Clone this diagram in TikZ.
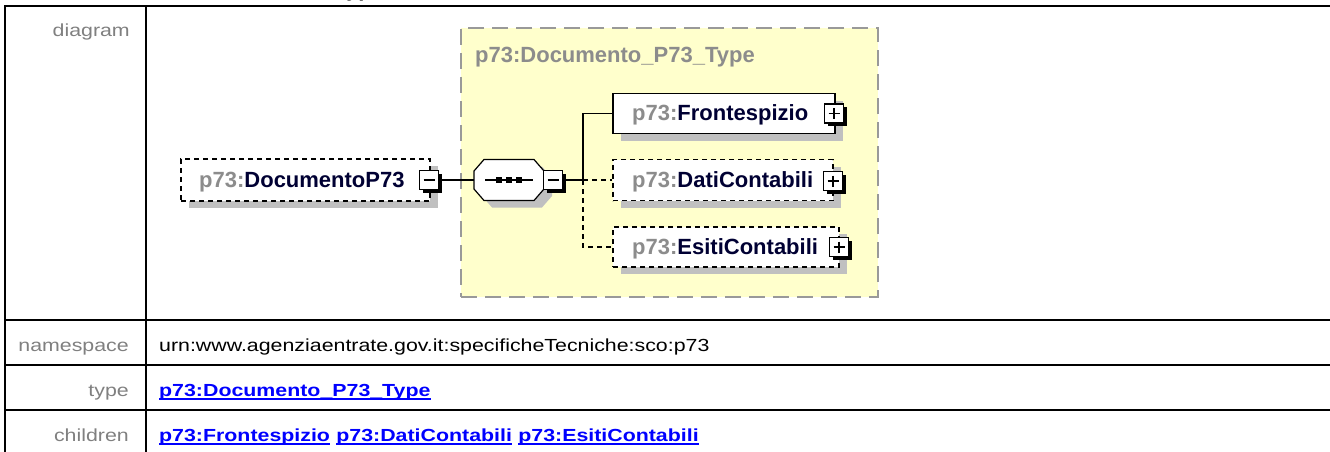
\documentclass[tikz,border=0pt]{standalone}
\usepackage{fontspec}
\setmainfont{Liberation Sans}
\newfontfamily\tabfont{Liberation Sans}[FakeStretch=1.22]
\usetikzlibrary{shadows}
\definecolor{shadowgray}{RGB}{192,192,192}
\definecolor{yfill}{RGB}{255,255,204}
\definecolor{yborder}{RGB}{153,153,153}
\definecolor{pfx}{RGB}{140,140,140}
\definecolor{nm}{RGB}{0,0,51}
\definecolor{lbl}{RGB}{128,128,128}
\definecolor{lnk}{RGB}{0,0,255}
\begin{document}
\begin{tikzpicture}[x=1pt,y=-1pt,
  dfont/.style={font=\bfseries\fontsize{22}{24}\selectfont},
  tfont/.style={font=\tabfont\fontsize{17.5}{20}\selectfont},
  elem/.style={draw=black, fill=white, line width=1.2pt, inner sep=0pt,
    drop shadow={shadow xshift=8pt,shadow yshift=-7pt,fill=shadowgray,opacity=1}},
  optelem/.style={elem, dash pattern=on 5pt off 4pt},
  etext/.style={dfont, inner sep=0pt, anchor=base west},
  pm/.style={draw=black, fill=white, line width=1.2pt, minimum width=19pt, minimum height=19pt, inner sep=0pt,
    drop shadow={shadow xshift=3pt,shadow yshift=-3pt,fill=black,opacity=1}},
  minusbox/.style={pm, path picture={\draw[line width=1.4pt] ([xshift=4pt]path picture bounding box.west) -- ([xshift=-4pt]path picture bounding box.east);}},
  plusbox/.style={pm, path picture={\draw[line width=1.4pt] ([xshift=4pt]path picture bounding box.west) -- ([xshift=-4pt]path picture bounding box.east);
      \draw[line width=1.4pt] ([yshift=-4pt]path picture bounding box.north) -- ([yshift=4pt]path picture bounding box.south);}},
  conn/.style={line width=1.2pt, black},
  optconn/.style={conn, dash pattern=on 5pt off 4pt},
  rowlabel/.style={tfont, text=lbl, inner sep=0pt, anchor=base east},
  rowvalue/.style={tfont, text=black, inner sep=0pt, anchor=base west},
  linktext/.style={font=\tabfont\bfseries\fontsize{17.5}{20}\selectfont, text=lnk, inner sep=0pt, anchor=base west},
  uline/.style={draw=lnk, line width=1.4pt},
  tline/.style={line width=2pt, black}
]
\useasboundingbox (0,0) rectangle (1330,452);
\fill[white] (0,0) rectangle (1330,452);

% clipped title fragments at the top
\begin{scope}
  \clip (0,0) rectangle (1330,5);
  \node[dfont, inner sep=0pt, anchor=base west] (tt1) at (191,-3) {\_};
  \node[dfont, inner sep=0pt, anchor=base west] (tt2) at (322,-3) {\_Type};
\end{scope}

% table
\draw[tline] (4,6) -- (1330,6);
\draw[tline] (5,6) -- (5,452);
\draw[tline] (146,6) -- (146,452);
\draw[tline] (5,320) -- (1330,320);
\draw[tline] (5,365) -- (1330,365);
\draw[tline] (5,410) -- (1330,410);

\node[rowlabel] (ldiag) at (130,37) {diagram};
\node[rowlabel] (lns) at (129,351) {namespace};
\node[rowlabel] (ltype) at (129,396) {type};
\node[rowlabel] (lchild) at (129,441) {children};

\node[rowvalue] (vns) at (159,351) {urn:www.agenziaentrate.gov.it:specificheTecniche:sco:p73};
\node[linktext] (vtype) at (159,396) {p73:Documento\_P73\_Type};
\draw[uline] ([yshift=-3pt]vtype.base west) -- ([yshift=-3pt]vtype.base east);
\node[linktext] (c1) at (159,441) {p73:Frontespizio};
\node[linktext, anchor=base west] (c2) at ([xshift=6pt]c1.base east) {p73:DatiContabili};
\node[linktext, anchor=base west] (c3) at ([xshift=6pt]c2.base east) {p73:EsitiContabili};
\foreach \n in {c1,c2,c3}{\draw[uline] ([yshift=-3pt]\n.base west) -- ([yshift=-3pt]\n.base east);}

% complex type box
\node[draw=yborder, fill=yfill, line width=2pt, dash pattern=on 16pt off 8pt,
  minimum width=417pt, minimum height=269pt, inner sep=0pt, anchor=north west] (ct) at (460,27) {};
\node[dfont, text=pfx, inner sep=0pt, anchor=base west] (cttitle) at (475,63) {p73:Documento\_P73\_Type};

% root element
\node[optelem, minimum width=249pt, minimum height=42pt] (doc) at (305.5,180) {};
\node[etext] (doct) at (199,187) {\textcolor{pfx}{p73:}\textcolor{nm}{DocumentoP73}};
\node[minusbox] (docm) at (429,180) {};

% sequence compositor (octagon)
\node[minimum width=70pt, minimum height=41pt, inner sep=0pt] (seq) at (509,180) {};
\fill[shadowgray, shift={(8,7)}] (474,171) -- (484,159.5) -- (534,159.5) -- (544,171) -- (544,189) -- (534,200.5) -- (484,200.5) -- (474,189) -- cycle;
\draw[line width=1.2pt, fill=white] (474,171) -- (484,159.5) -- (534,159.5) -- (544,171) -- (544,189) -- (534,200.5) -- (484,200.5) -- (474,189) -- cycle;
\draw[line width=1.2pt] ([xshift=-24pt]seq.center) -- ([xshift=24pt]seq.center);
\foreach \dx in {-10,0,10}{\fill ([xshift=\dx pt]seq.center) +(-2.7,-2.7) rectangle +(2.7,2.7);}
\node[minusbox] (seqm) at (553,180) {};

\draw[conn] (docm.east) -- (seq.west);

% children
\node[elem, minimum width=222pt, minimum height=40pt] (fr) at (724,113.5) {};
\node[etext] (frt) at (632,120.5) {\textcolor{pfx}{p73:}\textcolor{nm}{Frontespizio}};
\node[plusbox] (frp) at (834,113.5) {};

\node[optelem, minimum width=220pt, minimum height=41pt] (da) at (723,180) {};
\node[etext] (dat) at (632,187) {\textcolor{pfx}{p73:}\textcolor{nm}{DatiContabili}};
\node[plusbox] (dap) at (833,181) {};

\node[optelem, minimum width=226pt, minimum height=40pt] (es) at (726,247) {};
\node[etext] (est) at (632,254) {\textcolor{pfx}{p73:}\textcolor{nm}{EsitiContabili}};
\node[plusbox] (esp) at (839,247) {};

\coordinate (j) at (583,180);
\draw[conn] (seqm.east) -- (j);
\draw[conn] (j) |- (fr.west);
\draw[optconn] (j) -- (da.west);
\draw[optconn] (j) |- (es.west);
\end{tikzpicture}
\end{document}
